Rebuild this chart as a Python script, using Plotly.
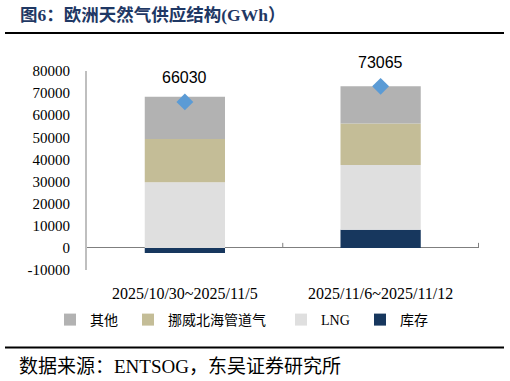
import plotly.graph_objects as go

categories = ["2025/10/30~2025/11/5", "2025/11/6~2025/11/12"]
stock = [-2300, 8200]
lng = [29700, 29300]
norway = [19500, 18800]
other = [19130, 16765]
total = [66030, 73065]
ytickvals = [-10000, 0, 10000, 20000, 30000, 40000, 50000, 60000, 70000, 80000]
yticktext = ["-10000", "0", "10000", "20000", "30000", "40000", "50000", "60000", "70000", "80000"]

W, H = 510, 381
L, R, T, B = 87, 31, 71, 111
pw, ph = W - L - R, H - T - B

def px(x):
    return (x - L) / pw

def py(y):
    return (H - B - y) / ph

serif = "Liberation Serif, Noto Sans CJK SC, serif"
fig = go.Figure()
# (name, values, colour, legend id, legend text start x in px)
series = [("库存", stock, "#17375E", "legend4", 400),
          ("LNG", lng, "#DFDFDF", "legend3", 321),
          ("挪威北海管道气", norway, "#C4BD97", "legend2", 168),
          ("其他", other, "#B2B2B2", "legend", 90)]
legend_layout = {}
for name, vals, col, lg, tx in series:
    fig.add_trace(go.Bar(x=categories, y=vals, name=name, marker_color=col,
                         marker_line_width=0, width=0.41, legend=lg))
    legend_layout[lg] = dict(orientation="h", xref="container", yref="container",
                             x=(tx - 40) / W, xanchor="left", y=(H - 320) / H, yanchor="middle",
                             itemwidth=30, borderwidth=0, bgcolor="rgba(0,0,0,0)",
                             font=dict(family=serif, size=14))
fig.add_trace(go.Scatter(x=categories, y=total, mode="markers", showlegend=False,
                         marker=dict(symbol="diamond", size=13, color="#5B9BD5"),
                         cliponaxis=False))
for c, t in zip(categories, total):
    fig.add_annotation(x=c, y=t, text=str(t), showarrow=False, yshift=24,
                       font=dict(family="Liberation Sans, Arial, sans-serif", size=16, color="#000"))

# small upward tick marks on the category axis (at category boundaries)
for xb in [0.5, 1.5]:
    fig.add_shape(type="line", xref="x", yref="y", ysizemode="pixel", yanchor=0,
                  x0=xb, x1=xb, y0=0, y1=5, line=dict(color="#7F7F7F", width=1))

fig.add_annotation(xref="paper", yref="paper", x=px(18), y=py(15), xanchor="left", yanchor="middle",
                   text="<b>图6：欧洲天然气供应结构(GWh）</b>", showarrow=False,
                   font=dict(family="Liberation Serif, Noto Sans CJK SC", size=17.5, color="#1F3864"))
fig.add_annotation(xref="paper", yref="paper", x=px(17), y=py(366), xanchor="left", yanchor="middle",
                   text="数据来源：ENTSOG，东吴证券研究所", showarrow=False,
                   font=dict(family="Liberation Serif, Noto Sans CJK SC", size=19, color="#000"))
fig.add_shape(type="line", xref="paper", yref="paper", x0=px(5), x1=px(504), y0=py(33), y1=py(33),
              line=dict(color="#000", width=2))
fig.add_shape(type="line", xref="paper", yref="paper", x0=px(5), x1=px(504), y0=py(347.5), y1=py(347.5),
              line=dict(color="#000", width=2))

fig.update_layout(
    width=W, height=H, margin=dict(l=L, r=R, t=T, b=B, autoexpand=False),
    barmode="relative", plot_bgcolor="white", paper_bgcolor="white",
    font=dict(family=serif, size=15, color="#000"),
    xaxis=dict(showgrid=False, showline=False, ticks="", ticklabelstandoff=12,
               tickfont=dict(size=16)),
    yaxis=dict(range=[-10000, 80000], tickvals=ytickvals, ticktext=yticktext, showgrid=False,
               showline=True, linecolor="#BFBFBF", linewidth=2, ticks="",
               zeroline=True, zerolinecolor="#7F7F7F", zerolinewidth=1.2,
               ticklabelstandoff=12, tickfont=dict(size=15)),
    **legend_layout,
)
fig.write_html("out.html", config={"displayModeBar": False},
               post_script="document.body.style.margin='0';")
